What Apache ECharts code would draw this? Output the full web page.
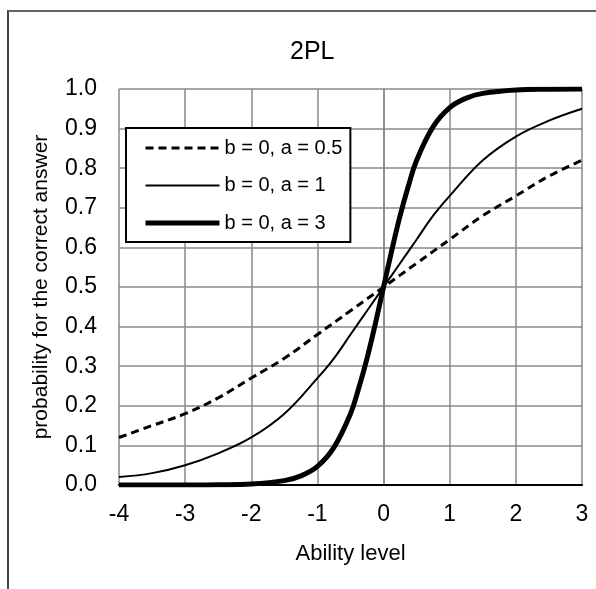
<!DOCTYPE html>
<html>
<head>
<meta charset="utf-8">
<script src="https://cdn.jsdelivr.net/npm/echarts@6/dist/echarts.min.js"></script>
<style>
  html, body { margin: 0; padding: 0; background: #fff; overflow: hidden; }
  #main { position: absolute; left: 0; top: 0; width: 596px; height: 589px; }
  #frame { position: absolute; left: 7px; top: 10px; width: 600px; height: 600px;
           border-left: 2px solid #444; border-top: 2px solid #666; pointer-events: none; }
</style>
</head>
<body>
<div id="main"></div>
<div id="frame"></div>
<script>
// curves: [ability, probability]
var curveA05 = [
    [-4, 0.12], [-3.5, 0.15], [-3, 0.18], [-2.5, 0.22], [-2, 0.27], [-1.5, 0.32],
    [-1, 0.38], [-0.5, 0.44], [0, 0.5], [0.5, 0.56], [1, 0.62], [1.5, 0.68],
    [2, 0.73], [2.5, 0.78], [3, 0.82]
];
var curveA1 = [
    [-4, 0.02], [-3.5, 0.03], [-3, 0.05], [-2.5, 0.08], [-2, 0.12], [-1.5, 0.18],
    [-1, 0.27], [-0.75, 0.32], [-0.5, 0.38], [-0.25, 0.44], [0, 0.5], [0.25, 0.56],
    [0.5, 0.62], [0.75, 0.68], [1, 0.73], [1.5, 0.82], [2, 0.88], [2.5, 0.92], [3, 0.95]
];
var curveA3 = [
    [-4, 0], [-3, 0.0001], [-2.5, 0.0006], [-2, 0.0025], [-1.5, 0.011], [-1.25, 0.023],
    [-1, 0.047], [-0.75, 0.095], [-0.5, 0.18], [-0.375, 0.245], [-0.25, 0.32],
    [-0.125, 0.407], [0, 0.5], [0.125, 0.593], [0.25, 0.68], [0.375, 0.755],
    [0.5, 0.82], [0.75, 0.905], [1, 0.953], [1.25, 0.977], [1.5, 0.989],
    [2, 0.9975], [2.5, 0.9994], [3, 0.9999]
];
var seriesNames = ['b = 0, a = 0.5', 'b = 0, a = 1', 'b = 0, a = 3'];
var lineWidths = [3, 2, 5];
var lineTypes = [[8, 5], 'solid', 'solid'];

var font = "'Liberation Sans', Arial, sans-serif";

var lineStyles = seriesNames.map(function (n, i) {
    return { color: '#000', width: lineWidths[i], type: lineTypes[i] };
});

var myChart = echarts.init(document.getElementById('main'));
var option = {
    backgroundColor: '#fff',
    animation: false,
    title: {
        text: '2PL',
        left: 285,
        top: 35,
        textStyle: { fontFamily: font, fontSize: 25, fontWeight: 'normal', color: '#000' }
    },
    legend: {
        orient: 'vertical',
        left: 126,
        top: 128,
        backgroundColor: '#fff',
        borderColor: '#000',
        borderWidth: 2,
        borderRadius: 0,
        padding: [10, 8, 9, 17],
        itemWidth: 74,
        itemHeight: 14,
        itemGap: 17.5,
        itemStyle: { opacity: 0 },
        data: seriesNames.map(function (n, i) {
            return { name: n, lineStyle: lineStyles[i] };
        }),
        textStyle: { fontFamily: font, fontSize: 20, lineHeight: 20, color: '#000' }
    },
    grid: { left: 119, top: 89, right: 14, bottom: 104 },
    xAxis: {
        type: 'value',
        min: -4, max: 3, interval: 1,
        name: 'Ability level',
        nameLocation: 'middle',
        nameGap: 58,
        nameTextStyle: { fontFamily: font, fontSize: 22, color: '#000' },
        axisLine: { onZero: false, lineStyle: { color: '#000', width: 2 } },
        axisTick: { show: false },
        axisLabel: { margin: 18, fontFamily: font, fontSize: 23, color: '#000' },
        splitLine: { show: true, lineStyle: { color: '#888', width: 1.5 } }
    },
    yAxis: {
        type: 'value',
        min: 0, max: 1, interval: 0.1,
        name: 'probability for the correct answer',
        nameLocation: 'middle',
        nameGap: 67,
        nameTextStyle: { fontFamily: font, fontSize: 21, color: '#000' },
        axisLine: { show: true, lineStyle: { color: '#888', width: 1.5 } },
        axisTick: { show: false },
        axisLabel: {
            margin: 22, fontFamily: font, fontSize: 23, color: '#000',
            formatter: function (v) { return v.toFixed(1); }
        },
        splitLine: { show: true, lineStyle: { color: '#888', width: 1.5 } }
    },
    series: [
        {
            name: seriesNames[0], type: 'line', data: curveA05,
            smooth: 0.4, symbol: 'none', z: 3,
            lineStyle: lineStyles[0], itemStyle: { color: '#000' }
        },
        {
            name: seriesNames[1], type: 'line', data: curveA1,
            smooth: 0.4, symbol: 'none', z: 3,
            lineStyle: lineStyles[1], itemStyle: { color: '#000' }
        },
        {
            name: seriesNames[2], type: 'line', data: curveA3,
            smooth: 0.4, symbol: 'none', z: 3,
            lineStyle: lineStyles[2], itemStyle: { color: '#000' }
        }
    ]
};
myChart.setOption(option);
</script>
</body>
</html>
